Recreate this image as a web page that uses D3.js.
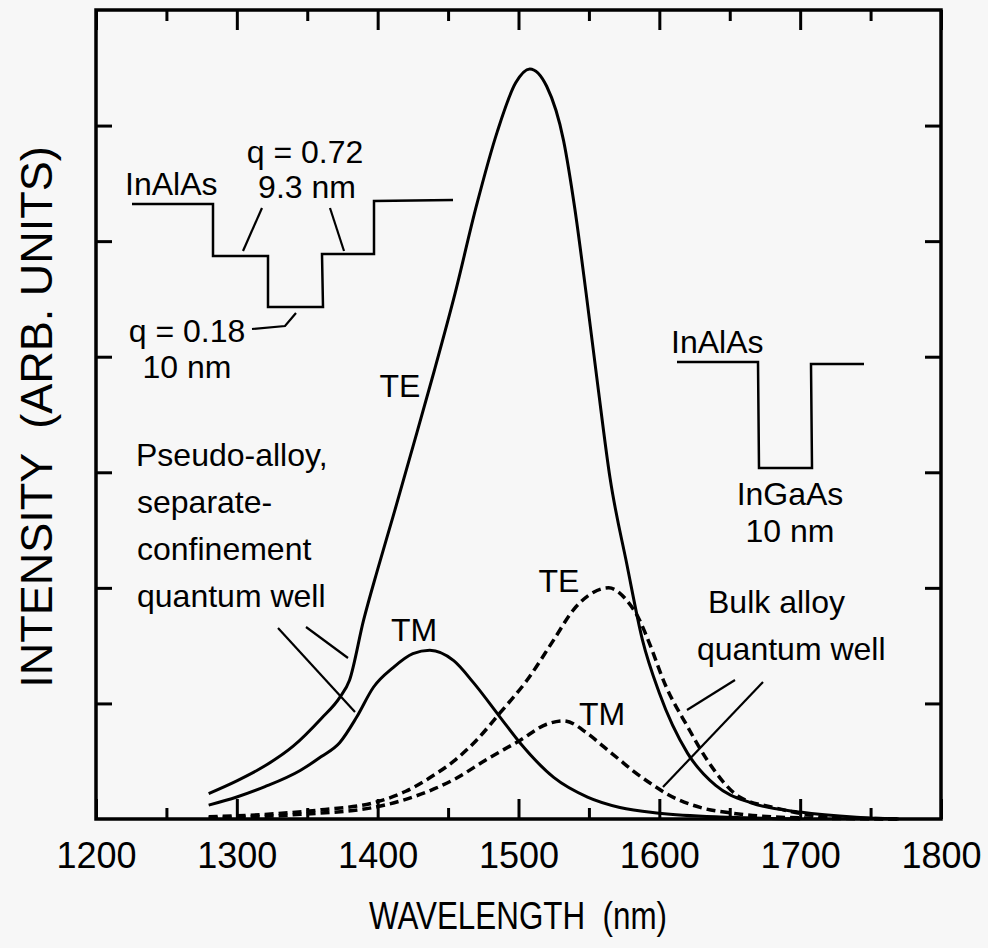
<!DOCTYPE html>
<html>
<head>
<meta charset="utf-8">
<script src="https://cdn.jsdelivr.net/npm/d3@7"></script>
<style>
  html, body { margin: 0; padding: 0; background: #f7f7f7; }
  svg { display: block; font-family: "Liberation Sans", Arial, Helvetica, sans-serif; }
  .axis path { display: none; }
  .axis line { stroke: #000; stroke-width: 3; }
  .axis text { font-size: 36px; fill: #000; font-family: "Liberation Sans", Arial, sans-serif; }
</style>
</head>
<body>
<script>
// wavelength (nm) / intensity (arb. units)
var wlTEsch = [1280, 1300, 1320, 1340, 1360, 1373, 1380, 1390, 1400, 1411, 1425, 1440, 1455, 1470, 1485, 1498, 1508, 1520, 1532, 1540, 1548, 1556, 1565, 1577, 1588, 1600, 1620, 1640, 1665, 1700, 1740, 1770];
var teSch   = [0.22, 0.33, 0.46, 0.63, 0.87, 1.05, 1.20, 1.72, 2.16, 2.62, 3.22, 3.87, 4.55, 5.30, 5.95, 6.37, 6.49, 6.34, 5.87, 5.28, 4.55, 3.78, 2.95, 2.20, 1.55, 1.09, 0.57, 0.29, 0.14, 0.06, 0.015, 0];

var wlTMsch = [1280, 1300, 1320, 1345, 1360, 1373, 1385, 1397, 1411, 1425, 1437, 1454, 1468, 1487, 1501, 1525, 1549, 1572, 1600, 1650, 1700];
var tmSch   = [0.12, 0.19, 0.28, 0.42, 0.54, 0.66, 0.88, 1.14, 1.31, 1.43, 1.46, 1.37, 1.18, 0.88, 0.66, 0.36, 0.19, 0.10, 0.05, 0.015, 0];

var wlTEbulk = [1280, 1320, 1360, 1397, 1420, 1440, 1454, 1470, 1487, 1506, 1525, 1539, 1553, 1564, 1577, 1586, 1591, 1605, 1620, 1634, 1657, 1681, 1720, 1770];
var teBulk   = [0.02, 0.04, 0.08, 0.14, 0.24, 0.38, 0.50, 0.68, 0.92, 1.20, 1.55, 1.81, 1.96, 2.00, 1.89, 1.72, 1.58, 1.14, 0.80, 0.51, 0.19, 0.10, 0.02, 0];

var wlTMbulk = [1280, 1345, 1397, 1420, 1440, 1454, 1478, 1501, 1520, 1532, 1549, 1560, 1572, 1581, 1596, 1605, 1629, 1652, 1700, 1770];
var tmBulk   = [0.01, 0.04, 0.10, 0.17, 0.26, 0.34, 0.52, 0.68, 0.82, 0.85, 0.74, 0.63, 0.51, 0.42, 0.29, 0.22, 0.10, 0.05, 0.01, 0];

var xMajor = [1200, 1300, 1400, 1500, 1600, 1700, 1800];
var xMinor = [1250, 1350, 1450, 1550, 1650, 1750];
var yTicks = [1, 2, 3, 4, 5, 6];

var width = 988, height = 948;
var plotLeft = 96, plotRight = 941, plotTop = 10, plotBottom = 819;

var svg = d3.select("body").append("svg")
    .attr("width", width)
    .attr("height", height);

svg.append("rect").attr("width", width).attr("height", height).attr("fill", "#f7f7f7");

var x = d3.scaleLinear().domain([1200, 1800]).range([plotLeft, plotRight]);
var y = d3.scaleLinear().domain([0, 7]).range([plotBottom, plotTop]);

// axes, ticks point inward
svg.append("g").attr("class", "axis")
    .attr("transform", "translate(0," + plotBottom + ")")
    .call(d3.axisBottom(x).tickValues(xMajor).tickSize(-20).tickPadding(23).tickFormat(d3.format("d")));
svg.append("g").attr("class", "axis")
    .attr("transform", "translate(0," + plotBottom + ")")
    .call(d3.axisBottom(x).tickValues(xMinor).tickSize(-11).tickFormat(""));
svg.append("g").attr("class", "axis")
    .attr("transform", "translate(0," + plotTop + ")")
    .call(d3.axisTop(x).tickValues(xMajor).tickSize(-20).tickFormat(""));
svg.append("g").attr("class", "axis")
    .attr("transform", "translate(0," + plotTop + ")")
    .call(d3.axisTop(x).tickValues(xMinor).tickSize(-11).tickFormat(""));
svg.append("g").attr("class", "axis")
    .attr("transform", "translate(" + plotLeft + ",0)")
    .call(d3.axisLeft(y).tickValues(yTicks).tickSize(-16).tickFormat(""));
svg.append("g").attr("class", "axis")
    .attr("transform", "translate(" + plotRight + ",0)")
    .call(d3.axisRight(y).tickValues(yTicks).tickSize(-16).tickFormat(""));

svg.selectAll(".axis text").attr("dy", "0.71em");

svg.append("rect")
    .attr("x", plotLeft).attr("y", plotTop)
    .attr("width", plotRight - plotLeft).attr("height", plotBottom - plotTop)
    .attr("fill", "none").attr("stroke", "#000").attr("stroke-width", 3.5);

// curves
var line = d3.line()
    .x(function (d) { return x(d[0]); })
    .y(function (d) { return y(d[1]); })
    .curve(d3.curveMonotoneX);

var series = [
    { wl: wlTEsch, v: teSch, dash: null },
    { wl: wlTMsch, v: tmSch, dash: null },
    { wl: wlTEbulk, v: teBulk, dash: "9,5" },
    { wl: wlTMbulk, v: tmBulk, dash: "9,5" }
];

svg.append("g").selectAll("path")
    .data(series)
    .enter().append("path")
    .attr("d", function (s) { return line(d3.zip(s.wl, s.v)); })
    .attr("fill", "none")
    .attr("stroke", "#000")
    .attr("stroke-width", function (s) { return s.dash ? 3.5 : 3; })
    .attr("stroke-dasharray", function (s) { return s.dash; });

// axis titles
svg.append("text")
    .attr("x", 518).attr("y", 929)
    .attr("text-anchor", "middle")
    .style("font-size", "38px")
    .attr("textLength", 298)
    .attr("lengthAdjust", "spacingAndGlyphs")
    .attr("xml:space", "preserve")
    .text("WAVELENGTH  (nm)");

svg.append("text")
    .attr("transform", "translate(52,417) rotate(-90)")
    .attr("text-anchor", "middle")
    .style("font-size", "45px")
    .attr("xml:space", "preserve")
    .text("INTENSITY  (ARB. UNITS)");

// annotations
var labels = [
    ["TE", 400, 397, "middle"],
    ["TM", 414, 641, "middle"],
    ["TE", 559, 592, "middle"],
    ["TM", 602, 725, "middle"],
    ["Pseudo-alloy,", 136, 466, "start"],
    ["separate-", 137, 513, "start"],
    ["confinement", 137, 560, "start"],
    ["quantum well", 137, 607, "start"],
    ["Bulk alloy", 708, 613, "start"],
    ["quantum well", 697, 660, "start"],
    ["InAlAs", 125, 195, "start"],
    ["q = 0.72", 305, 163, "middle"],
    ["9.3 nm", 307, 198, "middle"],
    ["q = 0.18", 187, 342, "middle"],
    ["10 nm", 187, 378, "middle"],
    ["InAlAs", 671, 353, "start"],
    ["InGaAs", 790, 505, "middle"],
    ["10 nm", 790, 542, "middle"]
];

svg.append("g").selectAll("text")
    .data(labels)
    .enter().append("text")
    .attr("x", function (d) { return d[1]; })
    .attr("y", function (d) { return d[2]; })
    .attr("text-anchor", function (d) { return d[3]; })
    .style("font-size", "32px")
    .text(function (d) { return d[0]; });

// band diagrams and leader lines (pixel sketches, not data)
var sketches = [
    [[132, 204], [213, 204], [213, 256], [268, 256], [268, 307], [323, 307], [322, 254], [374, 254], [374, 201], [453, 200]],
    [[677, 362], [758, 362], [759, 468], [812, 468], [811, 364], [864, 364]],
    [[262, 208], [243, 251]],
    [[330, 208], [344, 251]],
    [[252, 329], [285, 326], [296, 313]],
    [[278, 628], [355, 712]],
    [[306, 627], [348, 658]],
    [[735, 680], [687, 710]],
    [[763, 682], [663, 787]]
];

svg.append("g").selectAll("polyline")
    .data(sketches)
    .enter().append("polyline")
    .attr("points", function (d) { return d.join(" "); })
    .attr("fill", "none")
    .attr("stroke", "#000")
    .attr("stroke-width", function (d, i) { return i < 2 ? 2.5 : 2.2; });
</script>
</body>
</html>
